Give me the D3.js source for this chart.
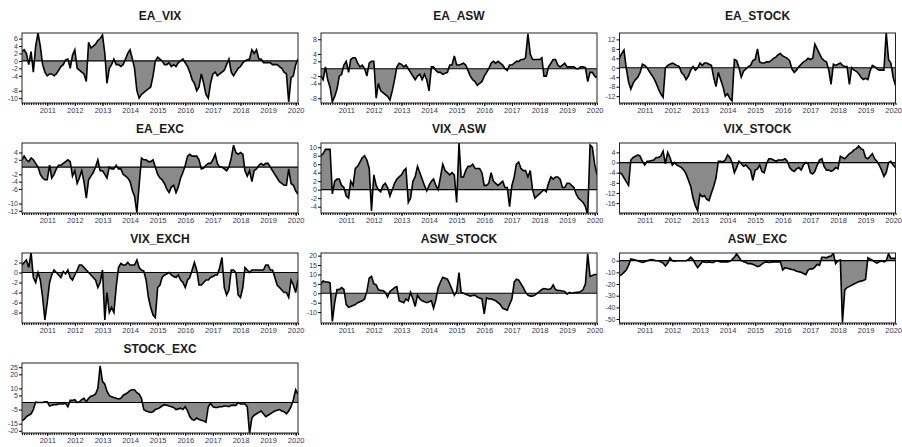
<!DOCTYPE html>
<html>
<head>
<meta charset="utf-8">
<script src="https://cdn.jsdelivr.net/npm/d3@7"></script>
<style>
  body { margin: 0; background: #fff; }
  text { font-family: "Liberation Sans", Arial, sans-serif; }
</style>
</head>
<body>
<div id="my_dataviz"></div>
<script>

// monthly observations, Feb 2010 .. Feb 2020
var months = d3.timeMonth.range(new Date(2010, 1, 1), new Date(2020, 2, 1));

var names = ['EA_VIX', 'EA_ASW', 'EA_STOCK', 'EA_EXC', 'VIX_ASW', 'VIX_STOCK',
             'VIX_EXCH', 'ASW_STOCK', 'ASW_EXC', 'STOCK_EXC'];

var ea_vix = [2.5,3,2,-1,2.5,-3,4,7.5,4,-1,-3,-4,-3.5,-3.5,-4,-3.5,-2.5,-1.5,-1,0.3,
  0.5,-2,1.5,3,-2,-2.5,-3,-3.5,-5.5,5,3.5,4,4.5,5.5,6,7,2,-6,-2,-1,
  0.5,-1,-1,-1.5,-1,0.5,2,3,0.5,-2,-8,-10,-9,-8.5,-8,-7.5,-7,-4,0,1,
  0.5,0,-1,-1,-0.5,-1.5,-1,-1.5,-0.5,0,0.5,-0.5,-1.5,-3,-5,-6,-8,-7,-3.5,-6,
  -9,-10,-6,-3.5,-3,-4,-3.5,-3,-2.5,-1,0.5,-3,-4,-3,-2,-1.5,-0.5,0,0.3,0.5,
  3,2,3,0.5,0.5,-0.5,-0.5,-0.5,-0.5,-1,-1,-1,-1.5,-2,-3,-3.5,-11,-4.5,-4,-1,0.5];

var ea_asw = [-2,-3,0.5,-3,-5,-9,-7.5,-5.5,-2,-1.5,1,2,-1,2.5,3,3,1.5,0.5,1,0,
  -2,1.5,2,2,-8,-4,-6,-6.5,-7,-7.5,-8.5,-6,-3,0.5,1.5,1.2,0.5,1,0,-1,
  -2,-3,-2,-1.5,-3,-1.5,-3,-6,0.5,0.5,-0.5,-1,-1,-1.5,-1.2,-1,1,1,3.5,1,
  1,1.2,1.5,1,-0.5,-2,-3,-3.5,-4.5,-4,-3.5,-2,-1,0,1.5,2,1.5,2,1.5,1,
  0,-0.5,1,1,1.5,2,2,2.5,2.5,3,9.5,4,2.5,2.5,2.5,2.5,3,-2,-2,0.5,
  1.5,2.5,2.5,1,0.5,1,1.5,0.5,0.5,0.5,0.5,0,0,0.5,0.5,0.3,-3.5,-1,-1,-2,-2.5];

var ea_stock = [4,6,7.5,0,-6,-9,-6.5,-5,-4,-2,1.5,1,0,-1.5,-3,-4.5,-6.5,-9,-11,-12.5,
  0,1,1.5,2,1.5,1,0.5,-2,-3,-5,-3.5,-1,0.5,-1,0,2,1,2,2,1.5,
  1,-4,-8,-2,-5,-8,-12,-11,-13,-14,3.5,3,0,-4,-1.5,-0.5,0.5,1,3,3.5,
  8,2.5,2,2,2.5,2.5,3,4,4.5,5.5,6,5,4.5,4,3,-0.5,-2,-1,0.5,1.5,
  2.5,3,4,3.5,4,10,8,6,4,3,2.5,-1,-7,1.5,1,1.5,2,1,0.5,0.5,
  -7,0,-1,-1.5,-2.5,-4,-5,-4.5,-5,-1.5,1,0.5,-0.5,-1,-1,-1,15,3.5,2,-4,-7.5];

var ea_exc = [2,3,2,1.5,2.5,2,1,0,-2,-3,-3.5,-3.5,0.5,-3,-2,-0.5,0.5,0.5,1,1.5,
  2,1.5,-2.5,-1,-4.5,-3,-1,-4,-8.5,-3.5,-2.5,-1.5,0,2,-1,-1,-2,-3,0,-0.5,
  -0.5,0.5,-0.5,-0.5,-2,-2.5,-3,-4,-6.5,-8,-12.5,-5,2.5,2,2,1.5,1.5,2,0,-2,
  -3,-3.5,-4.5,-6,-7,-5.5,-5,-7,-5.5,-3,-1.5,0.5,3,3.5,3,3,3,2,-0.5,-0.3,
  0.5,1,1,2,3.5,1,0,0,-0.5,-1,0,2.5,6,4,3.5,4,3.5,-1,-2.5,-1,
  -4,-1,-0.5,0.5,1,0.5,1,1,0,-1,-2,-3,-4,-4.5,-5,-5,-0.5,-4.5,-5,-6.5,-7.5];

var vix_asw = [8,8.5,9.5,9.5,9.5,-1,2,2.5,2.5,1,0.5,-1.5,-2,2,1,5,5.5,6.5,7.5,8,
  7,5,-5,3.5,1,0,-0.5,1,1.5,0.5,-1.5,0,1.5,2.5,3,3.5,4.5,5,-3,-2,
  2,3,5.5,4,2.5,1,-0.3,1,2,2.5,1,0,3,6,4.5,4,3.5,4,3.5,-3,
  11,3,3,4.5,5.5,5.5,6,5,5,5,4,1,1,1.5,4,2,1.5,1,1.5,2,
  0.5,0.5,-4,1,3,6,6.5,5,4.5,4.5,3,4.5,0,-2,-1.5,-1,-0.5,0,-0.5,1.5,
  3,2.5,3,3,2.5,0.5,0.5,1.5,1.5,1,0.5,-1,-2,-2.5,-3,-4,-6,10.5,10,6,3.5];

var vix_stock = [-4,-4.5,-6,-7.5,-9,1,2,2.5,3,2.5,0.5,-1,0.5,0.5,0.8,1,2,2,2.5,4.5,
  -0.5,4,2,-1,0,-1,-1.5,-2,-3,-4.5,-7,-9.5,-14,-17,-19,-12.5,-13.5,-13,-14.5,-15,
  -12,-9.5,-6,0.5,0.5,0.3,1,3,2,0,-4,-2,0.5,-0.5,-1.5,-1,-2,-3,-7,-3,
  -2.5,-1,-3.5,-4,-0.5,1.5,1.5,1,0.5,1,1,1,1.5,0.5,-2,-3,-3.5,-2.5,-2,-3,
  -1,0,-0.5,-4,-4.5,-3.5,-1,1,1.5,-1.5,-3,-3,-3.5,-3,-2,-2.5,2.5,2,1.5,2.5,
  3.5,4,5,5.5,6.5,5.5,5,2,1.5,2.5,3.5,1.5,0.5,-1,-3,-5.5,-4,0,0.5,-1,-2];

var vix_exch = [1.5,2,2.5,1,4,-1,-2,0,-1.5,-5,-9.5,-6,-2,-0.5,0.5,0,-0.5,-1,0.2,-0.3,
  0.5,-1,-1.5,-0.5,0.5,1.5,1.5,1,0.5,0,-0.5,-1,-1.5,-3,-2,0.5,-9.5,-4,-8,-7,
  -8,-3,1,1.8,1.5,1.5,2,1.5,1.5,1.5,2.5,1,0.5,0.3,-1.5,-5,-7,-8.5,-9,-3,
  -2.5,-1,-0.5,-0.3,0,-0.5,-0.8,-1,-0.5,-1.5,-2,-3,-1.5,-1,0.5,2,0.5,-2.5,-2.5,-2,
  -1.5,-1.5,-1,-0.8,-0.5,-0.5,1,3,-3,-4.5,-3.5,0.5,0.5,0,-4.5,-5,-3,1,0.5,0,
  0.5,0.5,0.5,0.5,0.5,0.5,1.5,1.5,0.5,0.5,-1,-2.5,-3,-3.5,-4,-4,-5,-1.5,-2.5,-4,-1.5];

var asw_stock = [5,6.5,6,6,5.5,-15,-5,2,2,3,2,-6,-7.5,-7,-6.5,-6,-5,-4.5,-4,-3,
  1,8,9,5,4.5,2,1.5,1.5,0.5,-2,1,2,3,3.5,-4,-4.5,-5,-3,-4,0.5,
  -3,-7,-1,-3,-4,-4.5,-5,-4.5,-4,-8,-3.5,3,6,8.5,8,7.5,5,2,-1,1,
  11,0.5,0,-0.5,-1,-1.5,-1.2,-1,-2,-2.5,-3,-11,-2.5,-3,-3,-3.5,-4,-5,-6,-8,
  -8.5,-9,-6,-3,6,7.5,7,5,3,0.5,-1,-1.5,-1.5,-1,0,1,2,2.5,2.3,2,
  2.5,4.5,2,1.5,1.5,1.2,1,-0.5,0.5,0,0.3,0.5,0.5,1,2,5,21,9,9.5,10,10];

var asw_exc = [-13,-12,-10,-8,-4,1.5,1,0.5,0,-1,-1.5,-1,0,0.5,1,0.5,0,0,-1,-2,
  -4.5,-2,2.5,0,-0.5,0,0,0,0,0,1,3,1,-3,-6,-3.5,-1,-1,-1.5,-1,
  -1.5,-1.5,0,-0.5,-1,-1,-1,-1,-0.5,1,3,6,3,0,-1,-1.5,-2.5,-2.5,-3,-4,
  -5,-4.5,-3,-1.5,-1,-1.5,-1.2,-1,-1,-1,-1,-8,-6,-6.5,-7,-7.5,-8,-9,-9.5,-10,
  -11,-12,-8,-7,-7,-5.5,-3,-4,3,3,2.5,3.5,4,6.5,-2.5,0,0.5,-53,-25,-23,
  -22,-21,-20,-19,-18,-17.5,-17,-16,2.5,1.5,0.5,-1,-2,-1,0,-1,0,6,2,2,2];

var stock_exc = [-13,-12,-10,-9,-8,-5,0.3,0,0,0,0.5,0.5,-2.5,-2,-1.5,-1.5,-1,-1,-1,-0.5,
  -3,1.5,1.5,2,0,0.5,2,3,0.5,3,4.5,5,6,10,26,15,13,8,5,4,
  3.5,3,2.5,3,5,6,7,8.5,9,9,7,6,3,-5,-6,-6.5,-7,-6.5,-5,-4.5,
  -3.5,-2.5,-1.5,-2,-2.5,-3,-3.5,-5,-4.5,-4,-5,-3,-6,-10,-12,-12.5,-11,-12,-12.5,-13,
  -14,-3,-0.5,-3,-3.5,-3.5,-3,-3,-2.5,-2.5,-3,-2,-2,-2,0,-1,-1,-1,-3,-22,
  -11,-9,-8,-7,-6,-8,-10,-9,-8,-7,-6,-5.5,-5,-6,-6.5,-8,-6,-3,2,9,6];

var seriesValues = [ea_vix, ea_asw, ea_stock, ea_exc, vix_asw, vix_stock,
                    vix_exch, asw_stock, asw_exc, stock_exc];

// y ranges and the tick labels printed on each panel
var yDomains = [[-11.3, 7.5], [-9.3, 9.7], [-14.9, 14.7], [-12.6, 6.6], [-5.5, 11],
                [-19.9, 7.7], [-10.1, 3.9], [-15.8, 21.4], [-53.4, 6.6], [-21.6, 28]];

var yTicks = [[6,4,2,0,-2,-4,-8,-10], [8,4,2,-2,-4,-8], [12,8,4,0,-4,-8,-12],
              [4,2,-2,-4,-6,-10,-12], [10,8,6,4,2,0,-2,-4], [4,0,-4,-8,-12,-16],
              [2,0,-2,-4,-6,-8], [20,15,10,5,0,-5,-10], [0,-10,-20,-30,-40,-50],
              [25,20,10,5,-5,-15,-20]];

var yearTicks = ['2011','2012','2013','2014','2015','2016','2017','2018','2019','2020'];


var colLeft = [22, 321, 619.5],
    rowTop = [33, 143, 253, 363],
    titleY = [20, 132.5, 242.5, 352.5],
    plotW = 276,
    plotH = 70;

var labelColor = "#35355e";

var svg = d3.select("#my_dataviz")
    .append("svg")
      .attr("width", 902)
      .attr("height", 447);

names.forEach(function(name, i) {

    var col = i % 3,
        row = Math.floor(i / 3);

    var data = months.map(function(m, k) { return {date: m, v: seriesValues[i][k]}; });

    var x = d3.scaleTime().domain([months[0], months[months.length - 1]]).range([0, plotW]);
    var y = d3.scaleLinear().domain(yDomains[i]).range([plotH, 0]);

    svg.append("text")
        .attr("x", colLeft[col] + plotW / 2)
        .attr("y", titleY[row])
        .attr("text-anchor", "middle")
        .style("font-size", "12px")
        .style("font-weight", "bold")
        .style("fill", "#1a1a1a")
        .text(name);

    var g = svg.append("g")
        .attr("transform", "translate(" + colLeft[col] + "," + rowTop[row] + ")");

    g.append("clipPath")
        .attr("id", "clip" + i)
      .append("rect")
        .attr("width", plotW)
        .attr("height", plotH);

    var plot = g.append("g").attr("clip-path", "url(#clip" + i + ")");

    plot.append("path")
        .datum(data)
        .attr("d", d3.area()
            .x(function(d) { return x(d.date); })
            .y0(y(0))
            .y1(function(d) { return y(d.v); }))
        .style("fill", "#8a8a8a")
        .style("stroke", "none");

    plot.append("line")
        .attr("x1", 0).attr("x2", plotW)
        .attr("y1", y(0)).attr("y2", y(0))
        .style("stroke", "#000")
        .style("stroke-width", 1.2);

    plot.append("path")
        .datum(data)
        .attr("d", d3.line()
            .x(function(d) { return x(d.date); })
            .y(function(d) { return y(d.v); }))
        .style("fill", "none")
        .style("stroke", "#000")
        .style("stroke-width", 1.6)
        .style("stroke-linejoin", "miter");

    g.append("rect")
        .attr("width", plotW)
        .attr("height", plotH)
        .style("fill", "none")
        .style("stroke", "#222")
        .style("stroke-width", 1);

    // left axis
    var ya = g.append("g")
        .call(d3.axisLeft(y)
            .tickValues(yTicks[i])
            .tickSize(3)
            .tickPadding(1)
            .tickFormat(function(d) { return String(d); }));
    ya.select(".domain").remove();
    ya.selectAll("text").style("font-size", "7px").style("fill", labelColor);

    // monthly minor ticks under the box
    var xm = g.append("g")
        .attr("transform", "translate(0," + plotH + ")")
        .call(d3.axisBottom(x).ticks(d3.timeMonth.every(1)).tickSize(2).tickFormat(""));
    xm.select(".domain").remove();

    // yearly labels
    var years = yearTicks.map(function(t) { return new Date(+t, 0, 1); });
    var xa = g.append("g")
        .attr("transform", "translate(0," + plotH + ")")
        .call(d3.axisBottom(x)
            .tickValues(years)
            .tickSize(3)
            .tickPadding(2)
            .tickFormat(d3.timeFormat("%Y")));
    xa.select(".domain").remove();
    xa.selectAll("text").style("font-size", "7.5px").style("fill", labelColor);
});

</script>
</body>
</html>
